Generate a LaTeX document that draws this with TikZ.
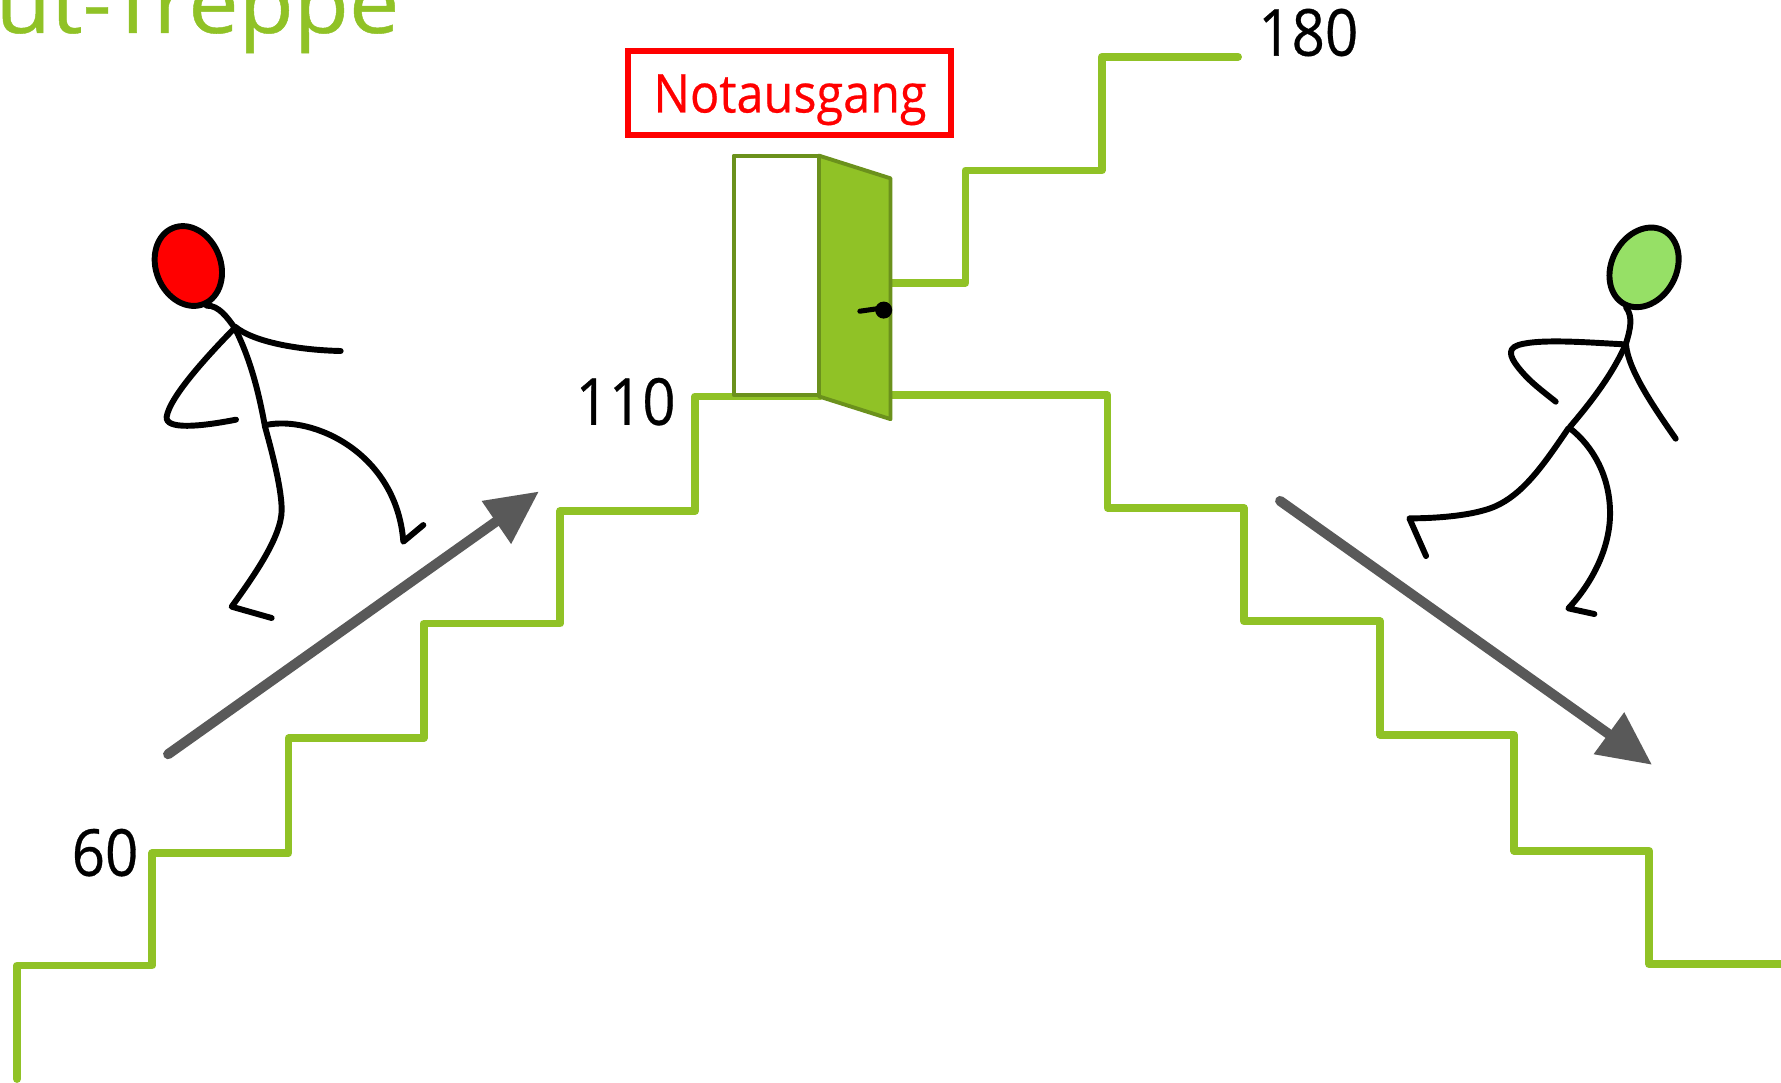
\documentclass[tikz,border=0pt]{standalone}
\usepackage{graphicx}
\usepackage{fontspec}
\setmainfont{Open Sans}
\newfontfamily\sturdy[FakeBold=0.5]{Open Sans}
\definecolor{stairgreen}{HTML}{90C226}
\definecolor{dooredge}{HTML}{6B911C}
\definecolor{arrowgrey}{HTML}{595959}
\definecolor{headgreen}{HTML}{96E066}
\tikzset{
  stairline/.style={draw=stairgreen,line width=6.8bp,line cap=round,line join=round},
  doorline/.style={draw=dooredge,line width=3.4bp,line join=round},
  limb/.style={draw=black,line width=5.2bp,line cap=round,line join=round},
  runnerunits/.style={x=0.29347pt,y=-0.29347pt},
  riser/.style={inner sep=0pt,anchor=base east,font=\sturdy\fontsize{57}{57}\selectfont},
  flow/.style={draw=arrowgrey,line width=8.8bp,line cap=round},
  flowhead/.style={fill=arrowgrey}
}
\begin{document}
\begin{tikzpicture}[x=1pt,y=-1pt]
  \useasboundingbox (0,0) rectangle (1568,953.4);
  \clip (0,0) rectangle (1568,953.4);
  \fill[white] (0,0) rectangle (1568,953.4);

  % heading, running off the page edge
  \node[inner sep=0pt,anchor=base west,text=stairgreen,font=\sturdy\fontsize{74}{74}\selectfont] (title) at (-4,29) {\scalebox{1.07}[1]{ut-Treppe}};

  % stair flights
  \draw[stairline] (15,950) -- (15,850) -- (134,850) -- (134,751) -- (254,751) -- (254,650) -- (373,650) -- (373,549) -- (493,549) -- (493,450) -- (612,450) -- (612,349) -- (722,349);
  \draw[stairline] (785,249) -- (850,249) -- (850,150) -- (970,150) -- (970,50) -- (1090,50);
  \draw[stairline] (785,348) -- (975,348) -- (975,447) -- (1095,447) -- (1095,547) -- (1215,547) -- (1215,647) -- (1333,647) -- (1333,749) -- (1452,749) -- (1452,849) -- (1580,849);

  % door frame and open leaf
  \draw[doorline,fill=white] (646,137) rectangle (721,348);
  \draw[doorline,fill=stairgreen] (721,137) -- (784,157) -- (784,369) -- (721,349) -- cycle;
  \draw[black,line width=4.4bp,line cap=round] (757,274) -- (778,271);
  \fill[black] (778,273) circle (7.5);

  % emergency exit sign
  \node[draw=red,line width=5.4bp,minimum width=284pt,minimum height=74pt,inner sep=0pt] (sign) at (695,82) {};
  \node[inner sep=0pt,anchor=base,text=red,font=\sturdy\fontsize{47}{47}\selectfont] (signtext) at (695.5,99) {\scalebox{.91}[1]{Notausgang}};

  % step heights
  \node[riser] (h60) at (122,771) {\scalebox{.9}[1]{60}};
  \node[riser] (h110) at (595,374) {\scalebox{.9}[1]{110}};
  \node[riser] (h180) at (1196,49) {\scalebox{.9}[1]{180}};

  % direction arrows
  \coordinate (upstart) at (148,664);
  \coordinate (upend) at (437,459);
  \draw[flow] (upstart) -- (upend);
  \fill[flowhead] (474,433) -- (424,441) -- (450,479) -- cycle;
  \coordinate (downstart) at (1127,441);
  \coordinate (downend) at (1416,646);
  \draw[flow] (downstart) -- (downend);
  \fill[flowhead] (1454,673) -- (1430,627) -- (1403,664) -- cycle;

  % runner going up
  \begin{scope}[shift={(123.26pt,-176.08pt)}]
    \begin{scope}[runnerunits]
      \draw[limb,fill=red,rotate around={22:(145,198)}] (145,198) ellipse (97 and 123);
      \draw[limb] (200,317) .. controls (235,315) and (262,352) .. (285,385);
      \draw[limb] (285,385) .. controls (330,475) and (355,570) .. (375,680);
      \draw[limb] (285,380) .. controls (340,425) and (470,450) .. (602,453);
      \draw[limb] (280,388) .. controls (200,470) and (90,590) .. (80,650) .. controls (75,690) and (180,680) .. (288,659);
      \draw[limb] (375,680) .. controls (400,770) and (425,870) .. (425,930) .. controls (425,1010) and (340,1130) .. (275,1220) -- (395,1254);
      \draw[limb] (378,675) .. controls (520,645) and (770,760) .. (790,1025) -- (850,975);
    \end{scope}
  \end{scope}

  % runner going down
  \begin{scope}[shift={(1223.8pt,-184.9pt)}]
    \begin{scope}[runnerunits]
      \draw[limb,fill=headgreen,rotate around={-28:(762,172)}] (762,172) ellipse (97 and 125);
      \draw[limb] (708,292) .. controls (730,320) and (720,360) .. (708,400);
      \draw[limb] (708,400) .. controls (670,490) and (600,580) .. (540,650);
      \draw[limb] (705,403) .. controls (600,398) and (450,385) .. (385,405) .. controls (345,418) and (365,450) .. (395,485) .. controls (425,520) and (460,545) .. (497,575);
      \draw[limb] (708,405) .. controls (715,480) and (790,590) .. (857,686);
      \draw[limb] (535,655) .. controls (470,750) and (410,840) .. (330,882) .. controls (270,915) and (150,925) .. (58,925) -- (108,1038);
      \draw[limb] (540,655) .. controls (610,710) and (660,800) .. (660,910) .. controls (660,1010) and (610,1115) .. (535,1195) -- (613,1212);
    \end{scope}
  \end{scope}
\end{tikzpicture}
\end{document}
